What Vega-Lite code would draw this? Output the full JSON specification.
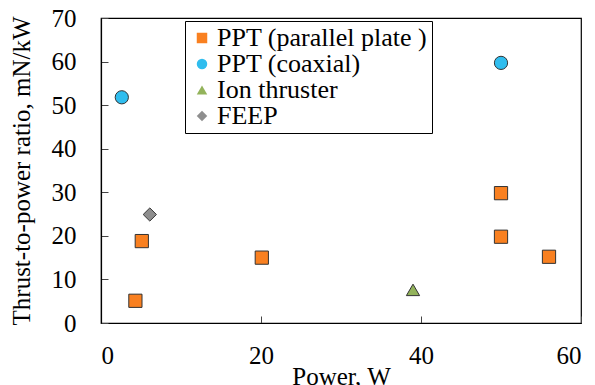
{
  "$schema": "https://vega.github.io/schema/vega-lite/v6.json",
  "width": 480,
  "height": 305,
  "autosize": {"type": "none"},
  "padding": {"left": 101, "top": 18, "right": 14, "bottom": 62},
  "background": "white",
  "config": {
    "font": "serif",
    "view": {"stroke": "#000", "strokeWidth": 1.2},
    "axis": {
      "domainColor": "#000",
      "domainWidth": 1.2,
      "tickColor": "#444",
      "tickSize": -7,
      "tickWidth": 1,
      "grid": false,
      "labelColor": "#000",
      "titleColor": "#000",
      "labelFont": "serif",
      "titleFont": "serif",
      "labelFontSize": 25,
      "titleFontSize": 25,
      "titleFontWeight": "normal"
    }
  },
  "data": {
    "values": [
      {"type": "PPT (parallel plate )", "power": 4.3, "ratio": 5.1},
      {"type": "PPT (parallel plate )", "power": 5.1, "ratio": 18.8},
      {"type": "PPT (parallel plate )", "power": 20.1, "ratio": 15},
      {"type": "PPT (parallel plate )", "power": 50, "ratio": 29.8},
      {"type": "PPT (parallel plate )", "power": 50, "ratio": 19.8},
      {"type": "PPT (parallel plate )", "power": 56, "ratio": 15.2},
      {"type": "PPT (coaxial)", "power": 2.6, "ratio": 51.8},
      {"type": "PPT (coaxial)", "power": 50, "ratio": 59.7},
      {"type": "Ion thruster", "power": 39, "ratio": 7.6},
      {"type": "FEEP", "power": 6.1, "ratio": 24.9}
    ]
  },
  "mark": {"type": "point", "filled": true, "opacity": 1, "size": 175, "stroke": "#333", "strokeWidth": 1},
  "encoding": {
    "x": {
      "field": "power",
      "type": "quantitative",
      "scale": {"domain": [0, 60], "nice": false, "zero": false},
      "axis": {"values": [0, 20, 40, 60], "title": "Power, W", "labelPadding": 27, "titlePadding": -4}
    },
    "y": {
      "field": "ratio",
      "type": "quantitative",
      "scale": {"domain": [0, 70], "nice": false},
      "axis": {"values": [0, 10, 20, 30, 40, 50, 60, 70], "title": "Thrust-to-power ratio, mN/kW", "labelPadding": 32, "titlePadding": 17}
    },
    "fill": {
      "field": "type",
      "type": "nominal",
      "scale": {
        "domain": ["PPT (parallel plate )", "PPT (coaxial)", "Ion thruster", "FEEP"],
        "range": ["#F98020", "#30BDEE", "#93B35B", "#8E8E8E"]
      },
      "legend": {
        "title": null,
        "orient": "none",
        "legendX": 84,
        "legendY": 3,
        "strokeColor": "#000",
        "fillColor": "white",
        "padding": 4,
        "labelFont": "serif",
        "labelFontSize": 26,
        "labelColor": "#000",
        "labelLimit": 400,
        "labelOffset": 2,
        "symbolSize": 110,
        "symbolStrokeColor": "#333",
        "symbolStrokeWidth": 1,
        "rowPadding": -7
      }
    },
    "shape": {
      "field": "type",
      "type": "nominal",
      "scale": {
        "domain": ["PPT (parallel plate )", "PPT (coaxial)", "Ion thruster", "FEEP"],
        "range": ["square", "circle", "triangle-up", "diamond"]
      },
      "legend": {
        "title": null,
        "orient": "none",
        "legendX": 84,
        "legendY": 3,
        "strokeColor": "#000",
        "fillColor": "white",
        "padding": 4,
        "labelFont": "serif",
        "labelFontSize": 26,
        "labelColor": "#000",
        "labelLimit": 400,
        "labelOffset": 2,
        "symbolSize": 110,
        "symbolStrokeColor": "#333",
        "symbolStrokeWidth": 1,
        "rowPadding": -7
      }
    }
  }
}
